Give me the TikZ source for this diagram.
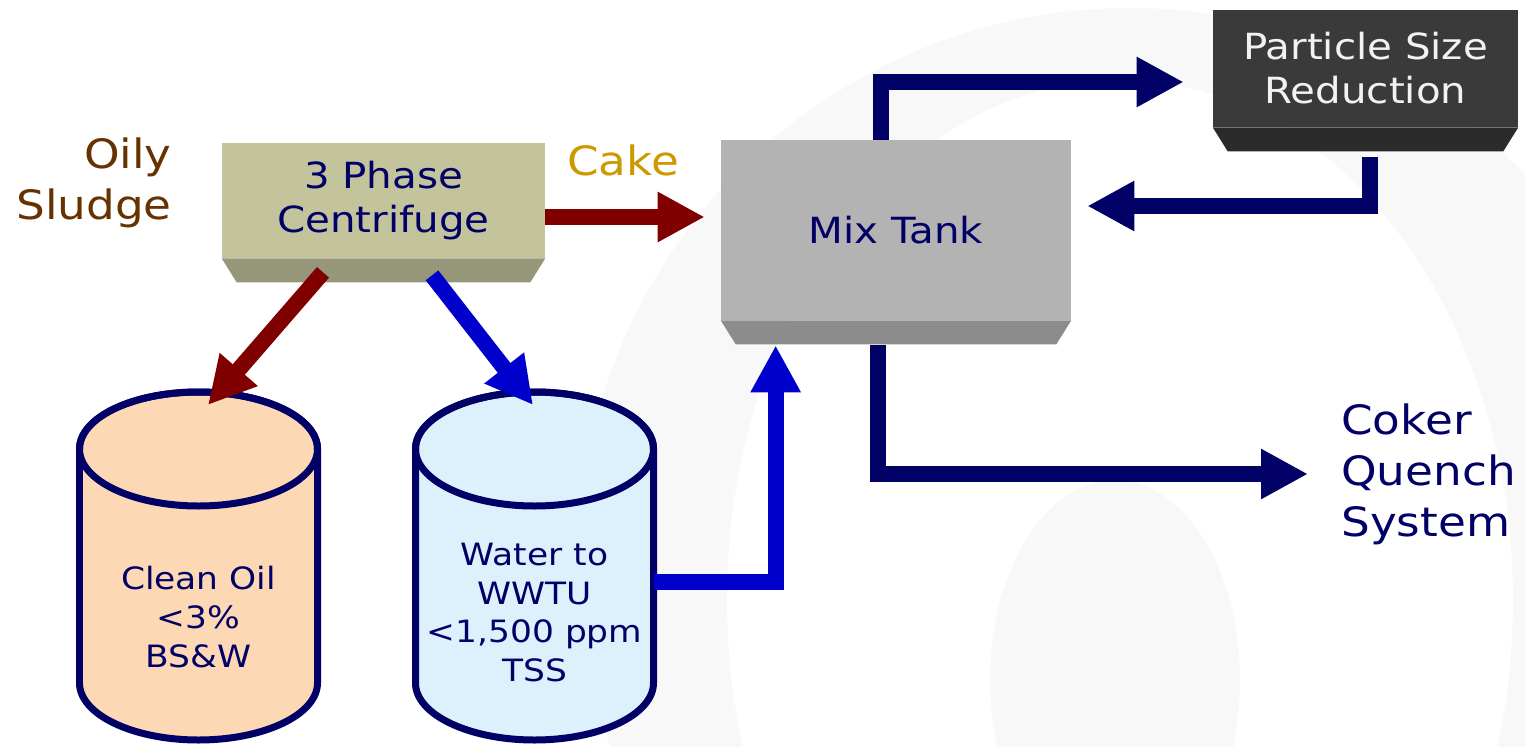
\documentclass[tikz,border=0pt]{standalone}
\usepackage{fontspec}
\setmainfont{DejaVu Sans}[FakeStretch=1.12]
\usepackage{tikz}
\usetikzlibrary{
  arrows.meta,
  calc
}
\definecolor{navytext}{RGB}{0,0,102}
\definecolor{flownavy}{RGB}{0,0,102}
\definecolor{flowblue}{RGB}{0,0,204}
\definecolor{flowred}{RGB}{128,0,0}
\definecolor{sludgebrown}{RGB}{102,51,0}
\definecolor{cakegold}{RGB}{204,153,0}
\definecolor{centface}{RGB}{195,196,156}
\definecolor{centbase}{RGB}{150,150,122}
\definecolor{mixface}{RGB}{179,179,179}
\definecolor{mixbase}{RGB}{140,140,140}
\definecolor{psrface}{RGB}{58,58,58}
\definecolor{psrbase}{RGB}{43,43,43}
\definecolor{psrtext}{RGB}{242,242,242}
\definecolor{oilfill}{RGB}{253,216,181}
\definecolor{waterfill}{RGB}{221,241,253}
\definecolor{wmgray}{RGB}{248,248,248}

% darker slanted strip under a unit box
\newcommand{\plantbase}[2]{%
  \fill[#2] (#1.south west) -- (#1.south east) -- ++(-0.3cm,-0.48cm)
    -- ($(#1.south west)+(0.3cm,-0.48cm)$) -- cycle;}

\begin{document}
\begin{tikzpicture}[
  x=0.02cm, y=-0.02cm,
  every node/.style={inner sep=0pt, text=navytext},
  plantbox/.style={rectangle, text centered, align=center,
    font=\fontsize{20.5}{25}\selectfont},
  streamtext/.style={align=#1, font=\fontsize{23}{29}\selectfont},
  tanktext/.style={align=center, font=\fontsize{17.5}{22}\selectfont},
  tankline/.style={draw=navytext, line width=0.14cm},
  bigarrow/.style={line width=0.32cm, -{Triangle[length=0.94cm, width=0.94cm]}}
]
  \useasboundingbox (0,0) rectangle (1526,747);

  % faint watermark
  \begin{scope}
    \clip (0,0) rectangle (1526,747);
    \fill[wmgray] (1130,560) circle[radius=552];
    \fill[white] (1120,600) ellipse[x radius=393, y radius=520];
    \fill[wmgray] (1115,680) ellipse[x radius=125, y radius=200];
  \end{scope}

  % process units
  \node[plantbox, fill=centface, minimum width=6.46cm, minimum height=2.3cm]
    (cent) at (383.5,200.5) {3 Phase\\Centrifuge};
  \node[plantbox, fill=mixface, minimum width=7cm, minimum height=3.6cm]
    (mix) at (896,230) {Mix Tank};
  \node[plantbox, fill=psrface, text=psrtext, minimum width=6.1cm, minimum height=2.34cm]
    (psr) at (1365.5,68.5) {Particle Size\\Reduction};
  \plantbase{cent}{centbase}
  \plantbase{mix}{mixbase}
  \plantbase{psr}{psrbase}

  % storage tanks
  \foreach \n/\cx/\col in {oil/198.5/oilfill, water/534.5/waterfill} {
    \filldraw[tankline, fill=\col] (\cx-119,449) -- (\cx-119,683)
      arc[start angle=180, end angle=0, x radius=119, y radius=57]
      -- (\cx+119,449)
      arc[start angle=0, end angle=-180, x radius=119, y radius=57] -- cycle;
    \draw[tankline] (\cx,449) ellipse[x radius=119, y radius=57];
  }
  \node[tanktext] (oil) at (198.5,617) {Clean Oil\\<3\%\\BS\&W};
  \node[tanktext] (water) at (534.5,612.5) {Water to\\WWTU\\<1,500 ppm\\TSS};

  % stream labels
  \node[streamtext=right, text=sludgebrown, anchor=east] (sludge) at (172,183) {Oily\\Sludge};
  \node[streamtext=center, text=cakegold] (cake) at (623,160) {Cake};
  \node[streamtext=left, anchor=west] (coker) at (1341,474) {Coker\\Quench\\System};

  \coordinate (oil in) at (208,405);
  \coordinate (water in) at (533,405);
  \coordinate (water out) at (653.5,582);
  \coordinate (cake out) at ([yshift=-0.33cm]cent.east);
  \coordinate (psr feed) at ([yshift=-0.27cm]psr.west);
  \coordinate (mix return) at ([yshift=0.48cm]mix.east);

  % flows
  \draw[bigarrow, flowred, shorten >=0.32cm] (cake out) -- (cake out -| mix.west);
  \draw[bigarrow, flowred] ([xshift=-1.21cm,yshift=-0.28cm]cent.south) -- (oil in);
  \draw[bigarrow, flowblue] ([xshift=0.97cm,yshift=-0.34cm]cent.south) -- (water in);
  \draw[bigarrow, flowblue] (water out) -| ([xshift=1.1cm,yshift=-0.5cm]mix.south west);
  \draw[bigarrow, flownavy, shorten >=0.58cm] ([xshift=-0.3cm]mix.north) |- (psr feed);
  \draw[bigarrow, flownavy, shorten >=0.32cm] ([xshift=0.09cm,yshift=-0.6cm]psr.south) |- (mix return);
  \draw[bigarrow, flownavy, shorten >=0.66cm] ([xshift=-0.36cm,yshift=-0.5cm]mix.south) |- (coker.west);
\end{tikzpicture}
\end{document}
